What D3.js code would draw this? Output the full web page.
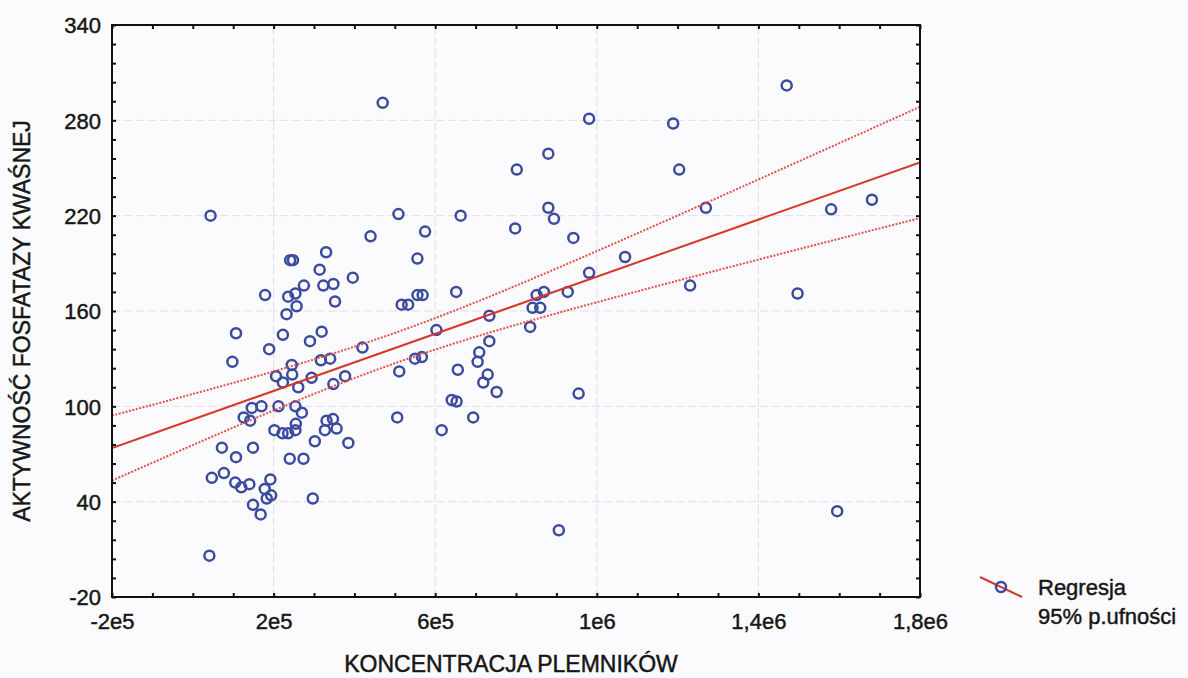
<!DOCTYPE html>
<html>
<head>
<meta charset="UTF-8">
<script src="https://d3js.org/d3.v7.min.js"></script>
<style>
    body { margin: 0; background: #fbfbfd; }
    text { font-family: "Liberation Sans", Arial, sans-serif; fill: #161616; stroke: #161616; stroke-width: 0.45px; }
</style>
</head>
<body>
<div id="chart"></div>
<script>
// sperm concentration (x) and acid phosphatase activity (y)
var concentration = [
    44000, 41000, 241000, 248000, 330000, 314000, 396000, 275000, 323000, 348000,
    179000, 236000, 254000, 352000, 257000, 232000, 107000, 223000, 319000, 290000,
    189000, 98000, 245000, 317000, 340000, 420000, 206000, 246000, 294000, 377000,
    223000, 261000, 348000, 146000, 170000, 212000, 254000, 126000, 142000, 270000,
    255000, 331000, 347000, 327000, 356000, 202000, 222000, 236000, 254000, 302000,
    385000, 72000, 149000, 107000, 240000, 274000, 47000, 77000, 105000, 120000,
    140000, 192000, 178000, 194000, 183000, 149000, 168000, 297000,
    470000, 509000, 663000, 575000, 440000, 556000, 652000, 556000, 569000, 517000,
    533000, 603000, 550000, 567000, 511000, 656000, 641000, 653000, 506000, 694000,
    616000, 734000, 709000, 705000, 730000, 719000, 752000, 880000, 802000, 880000,
    894000, 798000, 942000, 981000, 1070000, 981000, 851000, 869000, 928000, 841000,
    860000, 734000, 835000, 955000, 906000,
    1189000, 1204000, 1270000, 1231000, 1470000, 1580000, 1681000, 1497000, 1595000
];
var activity = [
    220, 6, 192, 192, 197, 186, 181, 176, 176, 177,
    170, 169, 171, 166, 163, 158, 146, 145, 147, 141,
    136, 128, 126, 129, 130, 137, 119, 120, 118, 119,
    115, 112, 114, 99, 100, 100, 100, 93, 91, 96,
    89, 91, 92, 85, 86, 85, 83, 83, 85, 78,
    77, 74, 74, 68, 67, 67, 55, 58, 52, 49,
    51, 54, 48, 44, 42, 38, 32, 42,
    291, 221, 220, 210, 207, 193, 172, 170, 170, 164,
    164, 148, 130, 131, 122, 123, 104, 103, 93, 93,
    85, 141, 134, 128, 120, 115, 109, 259, 249, 225,
    218, 212, 206, 281, 194, 184, 170, 172, 172, 162,
    162, 157, 150, 108, 22,
    278, 249, 225, 176, 302, 224, 230, 171, 34
];

var xTickValues = [-2e5, 2e5, 6e5, 1e6, 1.4e6, 1.8e6];
var xTickLabels = ["-2e5", "2e5", "6e5", "1e6", "1,4e6", "1,8e6"];
var yTickValues = [-20, 40, 100, 160, 220, 280, 340];
var legendLabels = ["Regresja", "95% p.ufności"];
var xTitle = "KONCENTRACJA PLEMNIKÓW";
var yTitle = "AKTYWNOŚĆ FOSFATAZY KWAŚNEJ";

var width = 1188, height = 678;
var pLeft = 112, pRight = 920, pTop = 25, pBottom = 597;
var blue = "#3b4b9e", red = "#d8362c", redLight = "#e2504a";

var svg = d3.select("#chart").append("svg")
    .attr("width", width)
    .attr("height", height);

var x = d3.scaleLinear().domain([-2e5, 1.8e6]).range([pLeft, pRight]);
var y = d3.scaleLinear().domain([-20, 340]).range([pBottom, pTop]);

// grid
svg.append("g")
    .selectAll("line")
    .data(xTickValues.slice(1, -1))
    .join("line")
    .attr("x1", d => x(d)).attr("x2", d => x(d))
    .attr("y1", pTop).attr("y2", pBottom)
    .attr("stroke", "#dedfe6").attr("stroke-dasharray", "9,3");
svg.append("g")
    .selectAll("line")
    .data(yTickValues.slice(1, -1))
    .join("line")
    .attr("y1", d => y(d)).attr("y2", d => y(d))
    .attr("x1", pLeft).attr("x2", pRight)
    .attr("stroke", "#dedfe6").attr("stroke-dasharray", "9,3");

// regression with 95% confidence band for the mean
var data = concentration.map((c, i) => [c, activity[i]]);
var n = data.length;
var mx = d3.mean(concentration), my = d3.mean(activity);
var sxx = d3.sum(concentration, c => (c - mx) * (c - mx));
var sxy = d3.sum(data, d => (d[0] - mx) * (d[1] - my));
var slope = sxy / sxx;
var intercept = my - slope * mx;
var sse = d3.sum(data, d => Math.pow(d[1] - (intercept + slope * d[0]), 2));
var se = Math.sqrt(sse / (n - 2));
var tval = 1.98;

var grid = d3.range(0, 101).map(i => -2e5 + i * 2e4);
var band = function(sign) {
    return grid.map(g => [g, intercept + slope * g + sign * tval * se * Math.sqrt(1 / n + (g - mx) * (g - mx) / sxx)]);
};

svg.append("clipPath").attr("id", "clip")
    .append("rect").attr("x", pLeft).attr("y", pTop)
    .attr("width", pRight - pLeft).attr("height", pBottom - pTop);

var plot = svg.append("g").attr("clip-path", "url(#clip)");

plot.selectAll("circle")
    .data(data)
    .join("circle")
    .attr("cx", d => x(d[0]))
    .attr("cy", d => y(d[1]))
    .attr("r", 5)
    .attr("fill", "none")
    .attr("stroke", blue)
    .attr("stroke-width", 2.5);

var line = d3.line().x(d => x(d[0])).y(d => y(d[1]));

[1, -1].forEach(function(s) {
    plot.append("path")
        .datum(band(s))
        .attr("d", line)
        .attr("fill", "none")
        .attr("stroke", redLight)
        .attr("stroke-width", 2)
        .attr("stroke-dasharray", "2,1.5");
});

plot.append("path")
    .datum([[-2e5, intercept + slope * -2e5], [1.8e6, intercept + slope * 1.8e6]])
    .attr("d", line)
    .attr("fill", "none")
    .attr("stroke", red)
    .attr("stroke-width", 2);

// frame and inward ticks
svg.append("rect")
    .attr("x", pLeft).attr("y", pTop)
    .attr("width", pRight - pLeft).attr("height", pBottom - pTop)
    .attr("fill", "none").attr("stroke", "#111").attr("stroke-width", 2);

var xMinor = d3.range(-2e5, 1.8e6 + 1, 1e5);
var yMinor = d3.range(-20, 341, 12);

svg.append("g").attr("transform", "translate(0," + pBottom + ")")
    .call(d3.axisTop(x).tickValues(xMinor).tickSize(4).tickFormat(""));
svg.append("g").attr("transform", "translate(0," + pTop + ")")
    .call(d3.axisBottom(x).tickValues(xMinor).tickSize(4).tickFormat(""));
svg.append("g").attr("transform", "translate(" + pLeft + ",0)")
    .call(d3.axisRight(y).tickValues(yMinor).tickSize(4).tickFormat(""));
svg.append("g").attr("transform", "translate(" + pRight + ",0)")
    .call(d3.axisLeft(y).tickValues(yMinor).tickSize(4).tickFormat(""));
svg.selectAll(".domain").remove();
svg.selectAll(".tick line").attr("stroke", "#111").attr("stroke-width", 2);

// tick labels
svg.append("g").attr("transform", "translate(0," + pBottom + ")")
    .call(d3.axisBottom(x).tickValues(xTickValues).tickSize(0)
        .tickFormat((d, i) => xTickLabels[i]))
    .call(g => g.select(".domain").remove())
    .selectAll("text")
    .attr("y", 32)
    .attr("dy", 0)
    .style("font-size", "22px")
    .style("font-family", "'Liberation Sans', Arial, sans-serif")
    .attr("fill", "#161616");

svg.append("g").attr("transform", "translate(" + pLeft + ",0)")
    .call(d3.axisLeft(y).tickValues(yTickValues).tickSize(0).tickFormat(d => String(d)))
    .call(g => g.select(".domain").remove())
    .selectAll("text")
    .attr("x", -11)
    .attr("dy", "0.36em")
    .style("font-size", "22px")
    .style("font-family", "'Liberation Sans', Arial, sans-serif")
    .attr("fill", "#161616");

// axis titles
svg.append("text")
    .attr("x", 511).attr("y", 672)
    .attr("text-anchor", "middle")
    .style("font-size", "23px")
    .text(xTitle);

svg.append("text")
    .attr("transform", "translate(30,321) rotate(-90)")
    .attr("text-anchor", "middle")
    .style("font-size", "23px")
    .text(yTitle);

// legend
var lg = svg.append("g");
lg.append("line")
    .attr("x1", 980).attr("y1", 577).attr("x2", 1022).attr("y2", 597)
    .attr("stroke", red).attr("stroke-width", 2);
lg.append("circle")
    .attr("cx", 1001).attr("cy", 587).attr("r", 5)
    .attr("fill", "none").attr("stroke", blue).attr("stroke-width", 2.5);
lg.selectAll("text")
    .data(legendLabels)
    .join("text")
    .attr("x", 1038)
    .attr("y", (d, i) => 595 + i * 29)
    .style("font-size", "22px")
    .text(d => d);
</script>
</body>
</html>
